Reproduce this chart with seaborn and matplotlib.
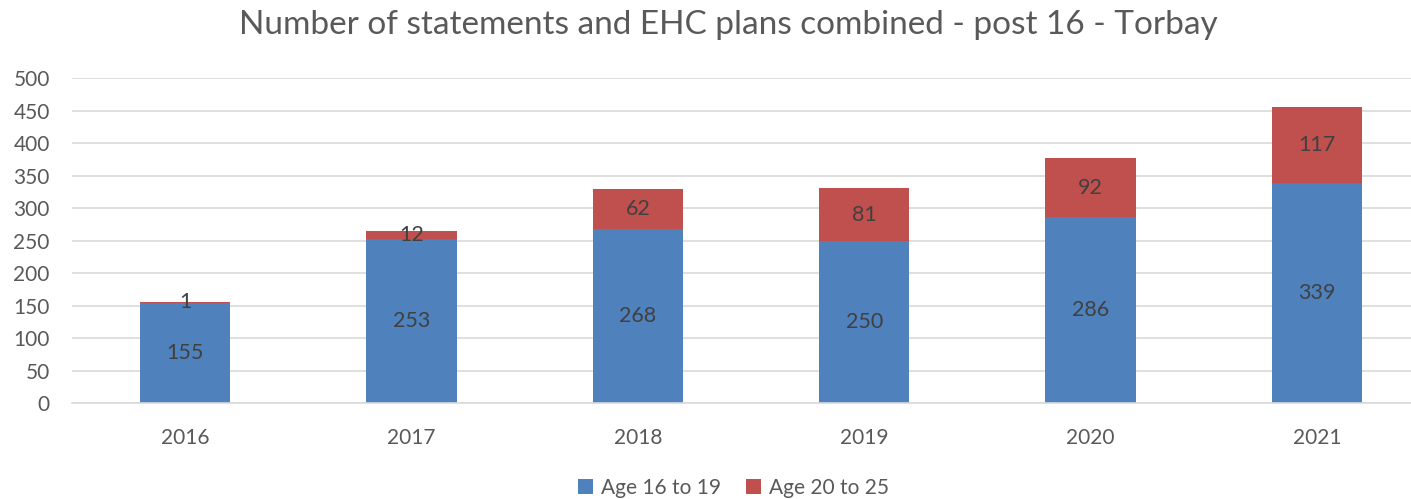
import pandas as pd
import matplotlib.pyplot as plt
import seaborn as sns

# data
years = ["2016", "2017", "2018", "2019", "2020", "2021"]
age_16_19 = [155, 253, 268, 250, 286, 339]
age_20_25 = [1, 12, 62, 81, 92, 117]

df = pd.DataFrame({"year": years, "Age 16 to 19": age_16_19, "Age 20 to 25": age_20_25})

sns.set_theme(style="white")
plt.rcParams["font.family"] = ["Lato", "DejaVu Sans"]

blue = "#4F81BD"
red = "#C0504D"
text_col = "#595959"

fig = plt.figure(figsize=(14.11, 4.99), dpi=100)
# plot area runs past the right edge, like the cropped original
ax = fig.add_axes([0.051, 0.1914, 0.9625, 0.6517])

sns.barplot(data=df, x="year", y="Age 16 to 19", color=blue, width=0.40,
            saturation=1, ax=ax, label="Age 16 to 19", linewidth=0)
sns.barplot(data=df, x="year", y="Age 20 to 25", color=red, width=0.40,
            saturation=1, ax=ax, bottom=df["Age 16 to 19"], label="Age 20 to 25",
            linewidth=0)

# data labels in the middle of each segment
for i, (a, b) in enumerate(zip(age_16_19, age_20_25)):
    ax.text(i, a / 2, str(a), ha="center", va="center", fontsize=15.5, color="#404040")
    ax.text(i, a + b / 2, str(b), ha="center", va="center", fontsize=15.5, color="#404040")

ax.set_ylim(0, 500)
ax.set_yticks(range(0, 501, 50))
ax.set_xlim(-0.5, 5.5)
ax.yaxis.grid(True, color="#D9D9D9", linewidth=1.2)
ax.set_axisbelow(True)
for s in ["left", "right", "top"]:
    ax.spines[s].set_visible(False)
ax.spines["bottom"].set_color("#D9D9D9")
ax.spines["bottom"].set_linewidth(1.2)
ax.tick_params(axis="both", labelsize=15, colors=text_col, length=0)
ax.tick_params(axis="x", pad=18)
ax.tick_params(axis="y", pad=16)
ax.set_xlabel("")
ax.set_ylabel("")

fig.text(0.516, 0.95, "Number of statements and EHC plans combined - post 16 - Torbay",
         fontsize=24, color=text_col, ha="center", va="center")

# move the legend below the chart
handles, labels = ax.get_legend_handles_labels()
if ax.get_legend() is not None:
    ax.get_legend().remove()
fig.legend(handles, labels, loc="center", bbox_to_anchor=(0.52, 0.022), ncol=2,
           frameon=False, fontsize=15, labelcolor=text_col, handlelength=0.7,
           handleheight=0.7, columnspacing=1.2, handletextpad=0.4)

fig.savefig("out.png", dpi=100)
